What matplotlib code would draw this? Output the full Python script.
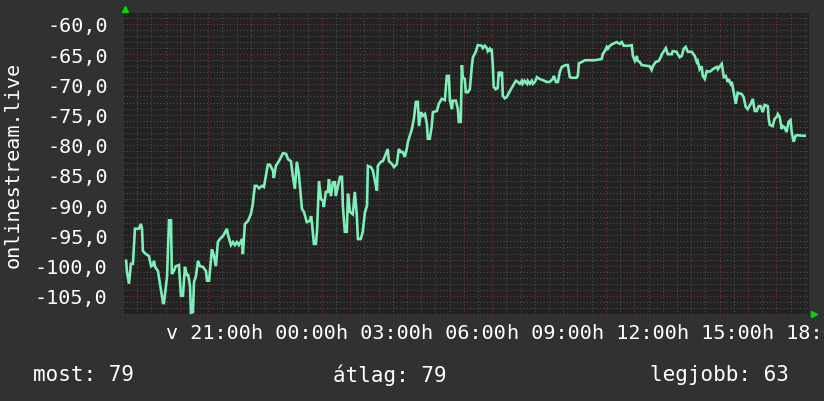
import numpy as np
import matplotlib
matplotlib.use("Agg")
import matplotlib.pyplot as plt

# hours since 18:00 of the first day, and measured values
hours = [0.11, 0.14, 0.21, 0.28, 0.35, 0.42, 0.56, 0.63, 0.67, 0.70, 0.81, 0.91, 0.99, 1.06, 1.09,
         1.13, 1.23, 1.34, 1.41, 1.44, 1.55, 1.62, 1.69, 1.72, 1.79, 1.86, 1.97, 2.04, 2.11, 2.18,
         2.25, 2.29, 2.36, 2.39, 2.46, 2.50, 2.57, 2.64, 2.71, 2.81, 2.92, 2.96, 3.03, 3.13, 3.20,
         3.27, 3.34, 3.41, 3.52, 3.66, 3.69, 3.80, 3.87, 3.94, 4.01, 4.08, 4.19, 4.22, 4.29, 4.40,
         4.50, 4.57, 4.64, 4.71, 4.79, 4.89, 4.96, 5.03, 5.10, 5.17, 5.28, 5.31, 5.38, 5.49, 5.63,
         5.74, 5.81, 5.91, 5.98, 6.05, 6.12, 6.19, 6.30, 6.37, 6.47, 6.58, 6.62, 6.65, 6.72, 6.79,
         6.83, 6.90, 6.97, 7.04, 7.07, 7.14, 7.21, 7.25, 7.32, 7.39, 7.46, 7.49, 7.57, 7.64, 7.71,
         7.74, 7.81, 7.88, 7.92, 7.99, 8.09, 8.16, 8.23, 8.27, 8.37, 8.44, 8.52, 8.59, 8.62, 8.73,
         8.80, 8.87, 8.94, 8.97, 9.08, 9.15, 9.22, 9.32, 9.36, 9.47, 9.54, 9.64, 9.71, 9.78, 9.85,
         9.92, 9.99, 10.03, 10.17, 10.24, 10.31, 10.38, 10.42, 10.49, 10.56, 10.63, 10.70, 10.73,
         10.80, 10.87, 10.91, 11.05, 11.12, 11.22, 11.33, 11.40, 11.47, 11.51, 11.58, 11.61, 11.72,
         11.79, 11.82, 11.89, 11.93, 11.96, 12.03, 12.07, 12.14, 12.21, 12.28, 12.32, 12.42, 12.49,
         12.63, 12.67, 12.74, 12.81, 12.84, 12.91, 12.95, 12.98, 13.02, 13.05, 13.12, 13.19, 13.23,
         13.30, 13.34, 13.37, 13.44, 13.51, 13.62, 13.72, 13.83, 13.90, 13.97, 14.04, 14.07, 14.14,
         14.22, 14.25, 14.32, 14.39, 14.43, 14.50, 14.57, 14.67, 14.78, 14.92, 15.02, 15.13, 15.17,
         15.24, 15.31, 15.38, 15.45, 15.59, 15.66, 15.73, 15.80, 15.97, 16.01, 16.05, 16.15, 16.26,
         16.61, 16.85, 16.89, 16.96, 17.03, 17.07, 17.14, 17.24, 17.38, 17.49, 17.56, 17.63, 17.73,
         17.80, 17.91, 17.95, 18.02, 18.09, 18.12, 18.19, 18.26, 18.54, 18.61, 18.65, 18.75, 18.86,
         18.93, 18.97, 19.04, 19.11, 19.18, 19.32, 19.35, 19.49, 19.53, 19.60, 19.67, 19.74, 19.81,
         19.88, 20.02, 20.13, 20.20, 20.23, 20.30, 20.37, 20.41, 20.48, 20.55, 20.62, 20.69, 20.76,
         20.90, 20.94, 21.01, 21.08, 21.15, 21.22, 21.29, 21.32, 21.39, 21.43, 21.50, 21.57, 21.64,
         21.78, 21.85, 21.92, 21.99, 22.10, 22.17, 22.24, 22.31, 22.38, 22.45, 22.52, 22.59, 22.70,
         22.73, 22.77, 22.87, 22.94, 23.01, 23.05, 23.12, 23.19, 23.22, 23.29, 23.36, 23.43, 23.50,
         23.54, 23.61, 23.68, 23.75, 23.89, 24.00]
values = [-99.2, -101.1, -103.0, -99.7, -99.7, -93.9, -93.9, -93.1, -93.9, -97.6, -98.1, -98.4, -100.1,
          -99.9, -99.2, -100.2, -100.9, -104.2, -106.2, -106.2, -101.9, -92.5, -92.5, -101.4, -100.9,
          -100.1, -99.9, -105.0, -105.0, -100.2, -101.7, -101.4, -103.4, -107.8, -107.7, -102.7,
          -101.7, -99.2, -100.1, -100.2, -100.9, -102.5, -102.5, -97.3, -98.4, -100.1, -96.1, -95.6,
          -95.1, -93.9, -94.8, -96.6, -96.1, -96.6, -96.1, -96.6, -95.6, -98.1, -93.1, -92.6, -91.5,
          -89.8, -86.8, -86.8, -87.2, -86.8, -87.0, -85.2, -83.3, -83.3, -84.3, -85.5, -83.5, -82.7,
          -81.4, -81.5, -82.4, -82.7, -85.2, -87.3, -82.8, -84.8, -90.6, -91.1, -92.8, -92.6, -91.8,
          -92.8, -96.4, -96.4, -94.3, -86.0, -89.0, -89.3, -90.3, -87.8, -87.8, -85.7, -88.5, -86.2,
          -86.2, -88.5, -86.8, -85.3, -85.3, -90.1, -94.4, -94.4, -88.1, -91.1, -91.5, -87.8, -91.5,
          -95.6, -95.6, -94.4, -91.1, -90.1, -83.5, -83.7, -84.3, -86.0, -87.6, -83.5, -82.8, -82.7,
          -81.9, -80.7, -82.7, -83.2, -83.7, -83.2, -80.7, -81.2, -81.2, -82.0, -80.7, -79.5, -77.4,
          -75.7, -72.9, -72.9, -76.9, -74.6, -75.2, -74.9, -76.6, -79.0, -79.0, -76.9, -74.6, -74.4,
          -73.2, -72.4, -72.6, -68.6, -68.6, -72.7, -74.1, -72.7, -72.7, -74.1, -76.2, -76.2, -66.8,
          -68.8, -69.1, -71.3, -71.3, -70.8, -67.0, -65.5, -64.6, -63.5, -63.6, -64.0, -63.6, -64.0,
          -64.5, -64.1, -64.6, -64.1, -67.0, -70.4, -70.8, -70.6, -67.9, -68.6, -67.9, -71.9, -72.3,
          -72.1, -71.1, -70.3, -69.4, -69.6, -69.9, -69.4, -69.9, -69.4, -69.9, -69.4, -69.9, -69.4,
          -69.9, -69.6, -68.8, -69.1, -69.3, -69.6, -69.6, -69.1, -68.6, -69.6, -69.6, -67.9, -67.1,
          -66.8, -66.8, -68.8, -68.9, -68.9, -68.6, -66.5, -66.3, -66.0, -66.0, -65.8, -65.0, -64.5,
          -63.8, -64.1, -63.6, -63.3, -63.0, -63.3, -63.0, -63.6, -63.6, -63.6, -63.5, -65.3, -66.1,
          -65.3, -66.1, -66.3, -66.8, -67.0, -67.6, -67.0, -66.3, -66.1, -65.5, -65.0, -64.5, -64.0,
          -65.0, -65.0, -64.5, -64.6, -65.0, -65.5, -65.3, -64.1, -63.8, -64.6, -64.6, -65.3, -66.3,
          -66.1, -67.5, -67.0, -68.6, -69.1, -67.8, -67.9, -67.8, -67.5, -67.1, -67.5, -67.0, -66.6,
          -68.8, -68.6, -69.6, -69.1, -69.9, -69.6, -71.3, -73.2, -71.4, -71.6, -72.1, -73.7, -74.1,
          -73.2, -72.4, -74.4, -74.4, -73.6, -73.6, -74.6, -73.4, -73.6, -75.7, -76.7, -76.9, -75.7,
          -75.4, -74.9, -75.4, -77.4, -76.9, -77.1, -77.9, -76.2, -75.9, -77.9, -79.5, -78.5, -78.4,
          -78.5, -78.5]

yticks = [-60, -65, -70, -75, -80, -85, -90, -95, -100, -105]
xtick_hours = [3, 6, 9, 12, 15, 18, 21, 24]
xtick_labels = ["v 21:00", "h 00:00", "h 03:00", "h 06:00", "h 09:00", "h 12:00", "h 15:00", "h 18:00"]
ylabel = "onlinestream.live"
legend_items = ["most: 79", "átlag: 79", "legjobb: 63"]

W, H = 824, 402
mono = "DejaVu Sans Mono"
fig = plt.figure(figsize=(W / 100, H / 100), dpi=100, facecolor="#313131")
ax = fig.add_axes([123 / W, (H - 316) / H, (809 - 123) / W, (316 - 14) / H])
ax.set_facecolor("#222222")
ax.set_xlim(0, 24.15)
ax.set_ylim(-108.18, -58.18)

# grid: minor grey, major red, both dotted
for y in np.arange(-108, -58, 1):
    if y % 5:
        ax.axhline(y, color="#505050", lw=0.8, ls=(0, (1, 2)), zorder=1)
for x in np.arange(0.5, 24.2, 1):
    ax.axvline(x, color="#505050", lw=0.8, ls=(0, (1, 2)), zorder=1)
for y in yticks:
    ax.axhline(y, color="#7a3434", lw=0.8, ls=(0, (1, 2)), zorder=2)
for x in np.arange(0, 24.2, 1):
    ax.axvline(x, color="#7a3434", lw=0.8, ls=(0, (1, 2)), zorder=2)

ax.plot(hours, values, color="#80eeb8", lw=1.9, zorder=3, solid_joinstyle="miter")

for s in ax.spines.values():
    s.set_visible(False)
ax.set_yticks(yticks)
ax.set_yticklabels([f"{v:.1f}".replace(".", ",") for v in yticks], fontfamily=mono, fontsize=14.5, color="white")
ax.set_xticks(xtick_hours)
ax.set_xticklabels(xtick_labels, fontfamily=mono, fontsize=14.5, color="white")
ax.tick_params(axis="y", length=0, pad=11)
ax.tick_params(axis="x", length=0, pad=6)

# arrows at the axis ends
ax.plot([0.003], [1.012], marker="^", ms=5, color="#00dd00", transform=ax.transAxes, clip_on=False)
ax.plot([1.007], [0.004], marker=">", ms=5, color="#00dd00", transform=ax.transAxes, clip_on=False)

fig.text(13 / W, (H - 165) / H, ylabel, rotation=90, ha="center", va="center",
         fontfamily=mono, fontsize=14.5, color="white")
for x, txt in zip([33, 333, 650], legend_items):
    fig.text(x / W, (H - 375) / H, txt, ha="left", va="center", fontfamily=mono, fontsize=15, color="white")

fig.savefig("out.png", dpi=100, facecolor=fig.get_facecolor())
